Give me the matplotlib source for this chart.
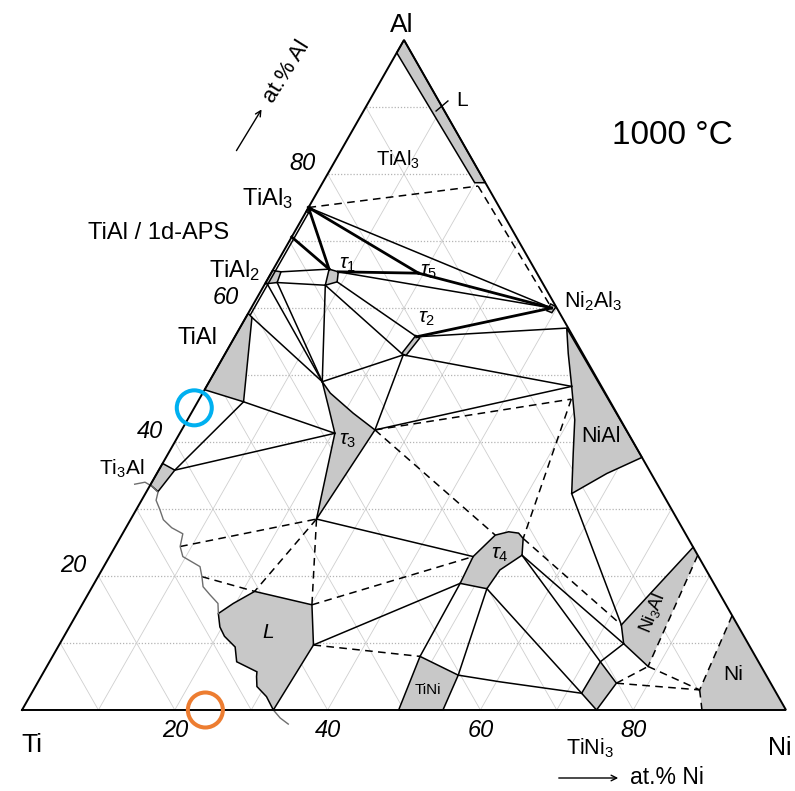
import numpy as np
import matplotlib
matplotlib.use("Agg")
import matplotlib.pyplot as plt
from matplotlib.patches import Polygon

plt.rcParams['font.family'] = ['Liberation Sans', 'DejaVu Sans']
plt.rcParams['mathtext.fontset'] = 'custom'
plt.rcParams['mathtext.rm'] = 'Liberation Sans'
plt.rcParams['mathtext.it'] = 'Liberation Sans:italic'

tial3 = (0, 75.0)
aps = (0, 70.6)
tial_top = (0.8, 58.6)
tial_br = (6.0, 46.0)
ti3al_tr = (2.1, 35.8)
tial2_top = (1.2, 65.4)
tial2_bot = (1.5, 63.8)
tial2_edge = (0.2, 63.7)
tau1_tl = (7.3, 65.8)
tau1_tr = (8.7, 65.4)
tau1_br = (9.3, 63.9)
tau1_bl = (8.0, 63.4)
tau5 = (19.3, 65.2)
tau2_top = (23.8, 55.7)
tau2_bot = (23.4, 53.0)
ni2al3 = (39.3, 60.0)
n1 = (14.8, 49.0)
tau3_left = (20.3, 41.3)
tau3_right = (25.3, 41.8)
tau3_bot = (24.3, 28.5)
nial_top = (42.8, 57.0)
nial_mid = (47.8, 48.3)
nial_dash = (48.7, 46.4)
nial_bl = (55.8, 32.3)
l_end = (20.6, 78.2)
l_near_ni2al3 = (38.7, 60.6)
wavy_a = (8.5, 24.4)
wavy_b = (13.6, 19.9)
l_top = (21.6, 17.7)
l_tr = (30.1, 15.7)
l_right = (33.3, 9.7)
tau4_left = (47.6, 22.9)
tau4_top = (48.9, 26.1)
tau4_tr = (52.8, 25.6)
tau4_right = (53.9, 23.1)
tau4_br = (51.8, 18.1)
tau4_bl = (47.9, 18.9)
tini_tl = (48.1, 8.0)
tini_tr = (54.5, 5.2)
tini3_left = (72.0, 2.5)
tini3_top = (72.1, 7.2)
tini3_right = (75.8, 4.0)
ni3al_tl = (72.1, 12.7)
ni3al_edge = (76.9, 23.1)
ni3al_bot = (78.7, 6.5)
ni3al_bl = (73.8, 9.9)
ni_top = (85.9, 14.1)
ni_bl = (87.2, 3.0)
ni_base = (89.0, 0)

# single-phase fields (grey)
liquid_al = [(0, 100), (21.3, 78.7), (19.9, 78.7), (0, 98.1)]
tial3_field = [(0, 75.2), (0.5, 74.8), (0.5, 74.2), (0, 74.4)]
tial2_field = [(0, 65.6), tial2_top, tial2_bot, (0, 63.6)]
tial_field = [(0, 59.2), tial_top, tial_br, (0, 47.8)]
ti3al_field = [(0, 36.8), ti3al_tr, (1.5, 32.6), (0, 33.6)]
tau1_field = [tau1_tl, tau1_tr, tau1_br, tau1_bl]
tau2_field = [(23.6, 55.9), (24.3, 55.5), (23.8, 52.9), (23.1, 53.2)]
ni2al3_field = [(38.9, 60.6), (39.8, 60.2), (39.7, 59.3), (38.9, 59.6)]
tau3_field = [n1, (16.7, 47.3), (21.2, 44.3), tau3_right, tau3_bot, tau3_left, (17.6, 45.1)]
nial_field = [nial_top, (44.9, 53.2), nial_mid, (50.7, 43.3), (53.0, 38.3), nial_bl,
              (58.9, 35.3), (62.3, 37.7)]
tau4_field = [tau4_left, tau4_top, (50.4, 26.6), (51.8, 26.4), tau4_tr, tau4_right,
              (52.1, 20.9), tau4_br, tau4_bl]
liquid_ti = [(18.5, 14.4), (19.7, 15.9), l_top, l_tr, l_right, (32.9, 0), (31.0, 2.0),
             (29.0, 3.5), (28.2, 5.0), (27.9, 5.7), (24.5, 7.2), (23.2, 9.4), (21.0, 11.0),
             (19.7, 12.4)]
tini_field = [tini_tl, tini_tr, (55.1, 0), (49.3, 0)]
tini3_field = [tini3_left, tini3_top, tini3_right, (75.2, 0)]
ni3al_field = [ni3al_tl, (75.7, 24.3), ni3al_edge, ni3al_bot, ni3al_bl]
ni_field = [ni_top, ni_bl, ni_base, (100, 0)]

# liquidus trace on the Ti-rich side (grey wavy line)
wavy_line = [(-2.1, 33.7), (-0.9, 34.0), (0.3, 33.4), (1.55, 32.5), (1.9, 31.3), (3.1, 29.9),
             (4.3, 28.4), (6.0, 27.2), (7.9, 26.3), wavy_a, (9.6, 22.9), (12.6, 21.4), wavy_b,
             (14.5, 18.4), (16.0, 17.2), (17.7, 15.9), (18.5, 14.4)]
wavy_tail = [(32.9, 0), (34.4, -1.2), (35.9, -2.1)]

tie_thick = [(tial3, tau5), (tau5, ni2al3), (tau1_tr, tau5), (tial3, tau1_tl), (aps, tau1_tl),
             (tau2_top, ni2al3)]
tie_solid = [(tial3, ni2al3), (tau1_tr, ni2al3), (tau1_br, tau2_top), (tau1_bl, tau2_bot),
             (tial2_top, tau1_tl), (tial2_bot, tau1_bl), (tial2_edge, n1), (tial2_bot, n1),
             (tial_top, n1), (tau1_bl, n1), (n1, tau2_bot), (tau2_top, nial_top),
             (tau2_bot, nial_mid), (tau3_right, tau2_bot), (tau3_right, nial_mid),
             (tial_br, tau3_left), (tial_br, ti3al_tr), (ti3al_tr, tau3_left),
             (tau3_bot, tau4_left), (l_right, tau4_bl), (tau4_bl, tini_tl), (tau4_br, tini_tr),
             (tau4_br, tini3_left), (tau4_right, tini3_top), (tau4_right, ni3al_bl),
             (tini3_top, ni3al_bl), (nial_bl, ni3al_tl), ((0.4, 74.6), (0.4, 59.0))]
tini_tini3 = [tini_tr, (60.5, 4.2), tini3_left]
tie_dashed = [(tial3, l_end), (l_end, l_near_ni2al3), (wavy_a, tau3_bot), (wavy_b, l_top),
              (tau3_bot, l_top), (tau3_bot, l_tr), (l_tr, tau4_left), (l_right, tini_tl),
              (tau3_right, nial_dash), (nial_dash, tau4_tr), (tau3_right, tau4_top),
              (tau4_tr, ni3al_tl), (tini3_right, ni3al_bot), (tini3_right, ni_bl),
              (ni3al_bot, ni_bl), (ni3al_edge, ni3al_bot), (ni_top, ni_bl), (ni_bl, ni_base)]
l_leader = [(9.5, 89.4), (10.3, 90.9)]

al_ticks = [20, 40, 60, 80]
ni_ticks = [20, 40, 60, 80]
blue_mark = (0, 45.1)
orange_mark = (24.0, 0)


def tern(pts):
    a = np.asarray(pts, dtype=float)
    return np.column_stack([a[:, 0] + a[:, 1] / 2.0, a[:, 1]])


def fpos(px, py):
    return px / 795.0, 1 - py / 791.0


fig = plt.figure(figsize=(7.95, 7.91), dpi=100)
ax = fig.add_axes([0, 0, 1, 1])
ax.set_xlim(-2.88, 101.18)
ax.set_ylim(-12.09, 105.97)
ax.axis('off')

# composition grid
for k in range(10, 100, 10):
    ax.plot(*tern([(0, k), (100 - k, k)]).T, color='#b4b4b4', lw=0.9, ls=(0, (1, 1.5)), zorder=1)
    ax.plot(*tern([(k, 0), (k, 100 - k)]).T, color='#cfcfcf', lw=0.6, zorder=1)
    ax.plot(*tern([(100 - k, 0), (0, 100 - k)]).T, color='#cfcfcf', lw=0.6, zorder=1)

grey = '#c8c8c8'
for field in [liquid_al, tial3_field, tial2_field, tial_field, ti3al_field, tau1_field,
              tau2_field, ni2al3_field, tau3_field, nial_field, tau4_field, liquid_ti,
              tini_field, tini3_field]:
    ax.add_patch(Polygon(tern(field), closed=True, facecolor=grey, edgecolor='black',
                         lw=1.1, zorder=2))
for field in [ni3al_field, ni_field]:
    ax.add_patch(Polygon(tern(field), closed=True, facecolor=grey, edgecolor='none', zorder=2))
ax.plot(*tern([ni3al_bot, ni3al_bl, ni3al_tl, (75.7, 24.3)]).T, color='black', lw=1.1, zorder=3)

for a, b in tie_thick:
    ax.plot(*tern([a, b]).T, color='black', lw=2.0, zorder=3)
for a, b in tie_solid:
    ax.plot(*tern([a, b]).T, color='black', lw=1.1, zorder=3)
ax.plot(*tern(tini_tini3).T, color='black', lw=1.1, zorder=3)
for a, b in tie_dashed:
    ax.plot(*tern([a, b]).T, color='black', lw=1.1, ls=(0, (5, 3.5)), zorder=3)
ax.plot(*tern(wavy_line).T, color='#6e6e6e', lw=1.0, zorder=3)
ax.plot(*tern(wavy_tail).T, color='#6e6e6e', lw=1.0, zorder=3)
ax.plot(*tern(l_leader).T, color='black', lw=1.0, zorder=3)

# triangle
ax.plot(*tern([(0, 0), (100, 0), (0, 100), (0, 0)]).T, color='black', lw=1.4, zorder=4,
        solid_joinstyle='miter')

for v in al_ticks:
    ax.annotate(str(v), tern([(0, v)])[0], xytext=(-18, 7.5), textcoords='offset points',
                ha='center', va='center', fontsize=17, style='italic')
for v in ni_ticks:
    ax.annotate(str(v), tern([(v, 0)])[0], xytext=(0, -14.5), textcoords='offset points',
                ha='center', va='center', fontsize=17, style='italic')

ax.scatter(*tern([blue_mark]).T, s=635, facecolors='none', edgecolors='#00B0F0',
           linewidths=2.9, zorder=6)
ax.scatter(*tern([orange_mark]).T, s=635, facecolors='none', edgecolors='#ED7D31',
           linewidths=2.9, zorder=6)

# labels
fig.text(*fpos(402, 25), 'Al', ha='center', va='center', fontsize=19)
fig.text(*fpos(32, 745), 'Ti', ha='center', va='center', fontsize=19)
fig.text(*fpos(780, 748), 'Ni', ha='center', va='center', fontsize=18)
fig.text(*fpos(672, 135), '1000 °C', ha='center', va='center', fontsize=24)

labels = [
    ((398, 160), 'TiAl$_3$', 14.5),
    ((268, 199), 'TiAl$_3$', 17),
    ((159, 233), 'TiAl / 1d-APS', 17),
    ((235, 271), 'TiAl$_2$', 17),
    ((197, 338), 'TiAl', 17),
    ((122, 469), 'Ti$_3$Al', 15),
    ((462, 101), 'L', 15),
    ((593, 301), 'Ni$_2$Al$_3$', 15.5),
    ((601, 437), 'NiAl', 15.5),
    ((733, 675), 'Ni', 15),
    ((590, 748), 'TiNi$_3$', 15.5),
]
for (px, py), s, fs in labels:
    fig.text(*fpos(px, py), s, ha='center', va='center', fontsize=fs)
fig.text(*fpos(428, 690), 'TiNi', ha='center', va='center', fontsize=11)
fig.text(*fpos(268, 632), 'L', ha='center', va='center', fontsize=15, style='italic')
fig.text(*fpos(653, 613), 'Ni$_3$Al', ha='center', va='center', fontsize=13, rotation=68)

taus = [((348, 264), r'$\tau_1$'), ((429, 271), r'$\tau_5$'), ((427, 319), r'$\tau_2$'),
        ((348, 441), r'$\tau_3$'), ((500, 554), r'$\tau_4$')]
for (px, py), s in taus:
    fig.text(*fpos(px, py), s, ha='center', va='center', fontsize=15)

# axis direction labels
fig.text(*fpos(287, 72), 'at.% Al', ha='center', va='center', fontsize=16, rotation=58)
ax.annotate('', xy=fpos(263, 107), xycoords='figure fraction', xytext=fpos(235, 153),
            textcoords='figure fraction', arrowprops=dict(arrowstyle='->', lw=1.0, color='black'))
fig.text(*fpos(630, 778), 'at.% Ni', ha='left', va='center', fontsize=16.5)
ax.annotate('', xy=fpos(621, 778), xycoords='figure fraction', xytext=fpos(556, 778),
            textcoords='figure fraction', arrowprops=dict(arrowstyle='->', lw=1.0, color='black'))

fig.savefig('out.png', dpi=100, facecolor='white')
